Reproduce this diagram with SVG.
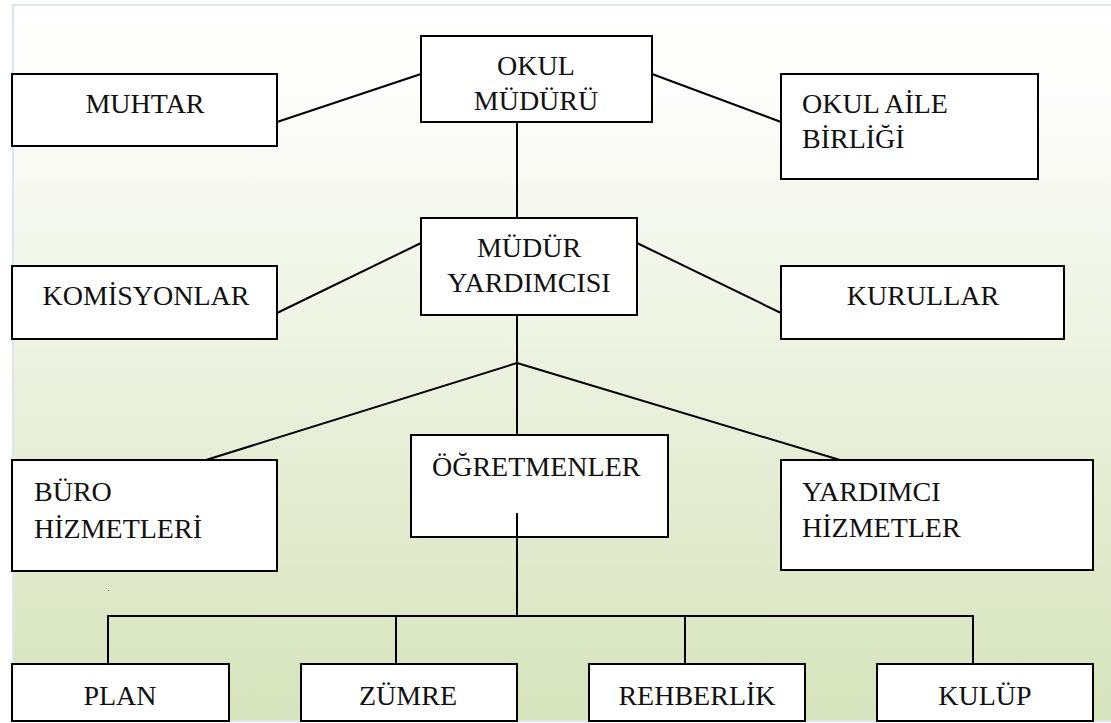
<svg xmlns="http://www.w3.org/2000/svg" width="1111" height="723" viewBox="0 0 1111 723">
<defs>
<linearGradient id="bg" x1="0" y1="0" x2="0" y2="1">
<stop offset="0" stop-color="#ffffff"/>
<stop offset="0.12" stop-color="#fdfdfb"/>
<stop offset="1" stop-color="#d6e3bb"/>
</linearGradient>
<style>
.box{fill:#ffffff;stroke:#000000;stroke-width:2}
.t{font-family:'Liberation Serif','DejaVu Serif',serif;font-size:28px;fill:#111111}
.c{text-anchor:middle}
#connectors line{stroke:#000000;stroke-width:2}
</style>
</defs>
<rect x="0" y="0" width="1111" height="723" fill="#ffffff"/>
<rect x="13" y="5" width="1100" height="716" fill="url(#bg)" stroke="#dce6f2" stroke-width="2"/>

<g id="muhtar"><rect class="box" x="12" y="74" width="265" height="72"/><text class="t c" x="145" y="113">MUHTAR</text></g>
<g id="okul-muduru"><rect class="box" x="421" y="36" width="231" height="86"/><text class="t c" x="536" y="75">OKUL</text><text class="t c" x="536" y="110">MÜDÜRÜ</text></g>
<g id="okul-aile-birligi"><rect class="box" x="781" y="74" width="257" height="105"/><text class="t" x="802" y="113">OKUL AİLE</text><text class="t" x="802" y="148">BİRLİĞİ</text></g>
<g id="komisyonlar"><rect class="box" x="12" y="266" width="265" height="73"/><text class="t c" x="146" y="305">KOMİSYONLAR</text></g>
<g id="mudur-yardimcisi"><rect class="box" x="421" y="218" width="216" height="97"/><text class="t c" x="529" y="257">MÜDÜR</text><text class="t c" x="529" y="292">YARDIMCISI</text></g>
<g id="kurullar"><rect class="box" x="781" y="266" width="283" height="73"/><text class="t c" x="923" y="305">KURULLAR</text></g>
<g id="buro-hizmetleri"><rect class="box" x="12" y="460" width="265" height="111"/><text class="t" x="34" y="501">BÜRO</text><text class="t" x="34" y="538">HİZMETLERİ</text></g>
<g id="ogretmenler"><rect class="box" x="411" y="435" width="257" height="102"/><text class="t" x="432" y="476">ÖĞRETMENLER</text></g>
<g id="yardimci-hizmetler"><rect class="box" x="781" y="460" width="312" height="110"/><text class="t" x="802" y="501">YARDIMCI</text><text class="t" x="802" y="537">HİZMETLER</text></g>
<g id="plan"><rect class="box" x="12" y="664" width="217" height="57"/><text class="t c" x="120" y="705">PLAN</text></g>
<g id="zumre"><rect class="box" x="301" y="664" width="216" height="57"/><text class="t c" x="408" y="705">ZÜMRE</text></g>
<g id="rehberlik"><rect class="box" x="589" y="664" width="216" height="57"/><text class="t c" x="697" y="705">REHBERLİK</text></g>
<g id="kulup"><rect class="box" x="877" y="664" width="216" height="57"/><text class="t c" x="985" y="705">KULÜP</text></g>

<g id="connectors">
<line x1="277" y1="122" x2="421" y2="74"/>
<line x1="652" y1="74" x2="781" y2="122"/>
<line x1="517" y1="122" x2="517" y2="218"/>
<line x1="421" y1="243" x2="277" y2="313"/>
<line x1="637" y1="243" x2="781" y2="313"/>
<line x1="517" y1="315" x2="517" y2="435"/>
<line x1="517" y1="363" x2="206" y2="460"/>
<line x1="517" y1="363" x2="840" y2="460"/>
<line x1="517" y1="513" x2="517" y2="616"/>
<line x1="107" y1="616" x2="974" y2="616"/>
<line x1="108" y1="615" x2="108" y2="664"/>
<line x1="396" y1="615" x2="396" y2="664"/>
<line x1="685" y1="615" x2="685" y2="664"/>
<line x1="973" y1="615" x2="973" y2="664"/>
</g>
<rect x="108" y="590" width="1" height="1" fill="#555555"/>
</svg>
